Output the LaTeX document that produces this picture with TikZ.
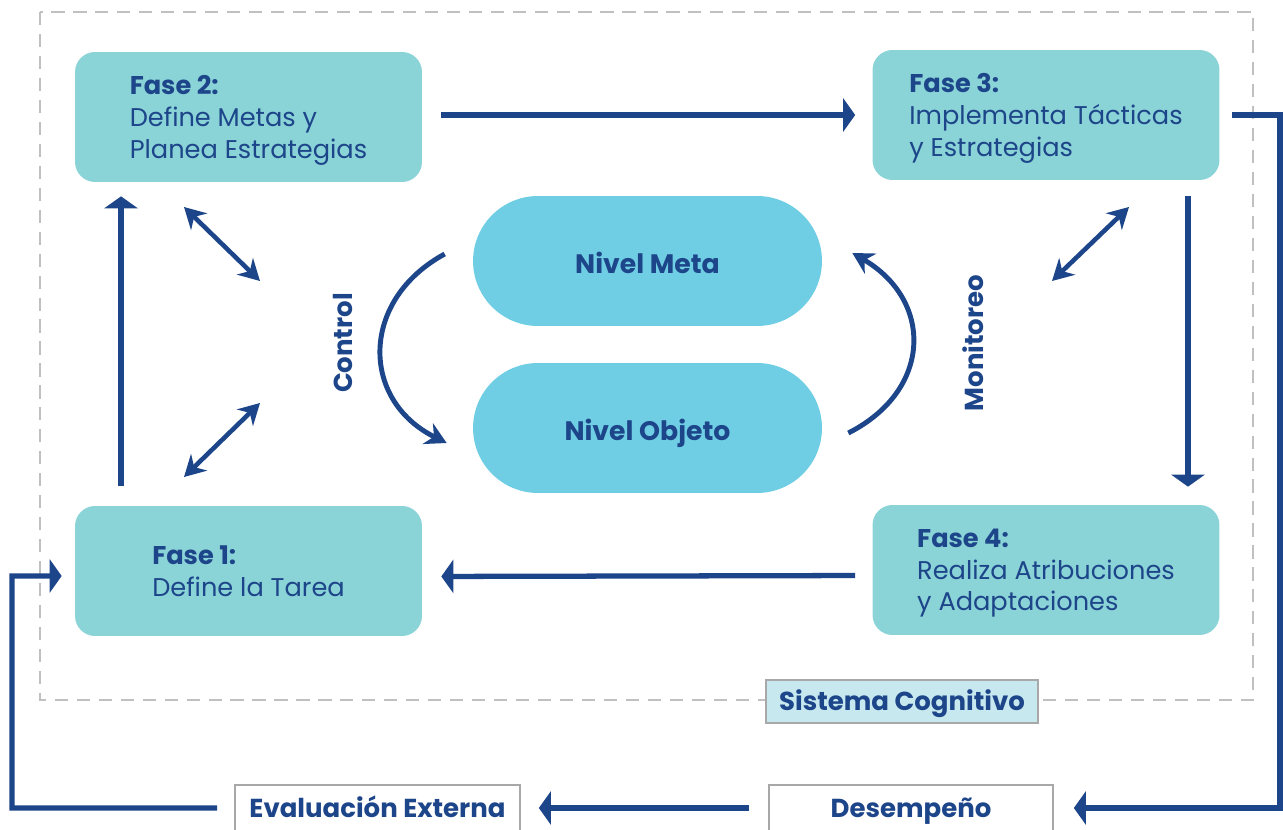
\documentclass[tikz,border=0pt]{standalone}
\usepackage{fontspec}
\setmainfont{Poppins}
\usetikzlibrary{arrows.meta}

\definecolor{azul}{HTML}{1D4589}
\definecolor{cajafase}{HTML}{8AD3D7}
\definecolor{cajanivel}{HTML}{6FCEE4}
\definecolor{cajasistema}{HTML}{C6E8EE}
\definecolor{bordegris}{HTML}{A8A8A8}
\definecolor{lineagris}{HTML}{C0C0C0}

\tikzset{
  fase/.style={fill=cajafase, rounded corners=0.4cm, minimum width=6.94cm, minimum height=2.6cm,
    align=left, text=azul, text depth=0pt, font=\fontsize{14.6}{18}\selectfont},
  nivel/.style={fill=cajanivel, rounded corners=1.3cm, minimum width=6.98cm, minimum height=2.6cm,
    text=azul, text height=14.6pt, text depth=0pt, font=\bfseries\fontsize{15.2}{18}\selectfont},
  etiqueta/.style={text=azul, font=\bfseries\fontsize{14.8}{18}\selectfont},
  caja/.style={draw=bordegris, line width=1pt, text=azul, text height=10.5pt, text depth=0pt,
    font=\bfseries\fontsize{14.8}{18}\selectfont},
  flow/.style={azul, line width=3pt, -{Triangle[length=0.24cm,width=0.66cm]}},
  dbl/.style={azul, line width=2.6pt, {Stealth[length=0.42cm,width=0.46cm]}-{Stealth[length=0.42cm,width=0.46cm]}},
  curva/.style={azul, line width=2.8pt, -{Stealth[length=0.42cm,width=0.46cm]}}
}

\begin{document}
\begin{tikzpicture}[x=0.02cm,y=-0.02cm]
\useasboundingbox (0,0) rectangle (1283,830);

% sistema cognitivo
\draw[lineagris, line width=1pt, dash pattern=on 7.5pt off 5pt] (40,12) rectangle (1253,700);

\node[fase, text depth=-5pt] (f2) at (248.5,117) {\textbf{Fase 2:}\\Define Metas y\\Planea Estrategias};
\node[fase] (f3) at (1046,115) {\textbf{Fase 3:}\\Implementa Tácticas\\y Estrategias};
\node[fase] (f1) at (248.5,571) {\textbf{Fase 1:}\\Define la Tarea};
\node[fase] (f4) at (1046,570) {\textbf{Fase 4:}\\Realiza Atribuciones\\y Adaptaciones};

\node[nivel] (meta) at (647.5,261) {Nivel Meta};
\node[nivel] (objeto) at (647.5,428) {Nivel Objeto};

\node[etiqueta, rotate=90] (control) at (343,343) {Control};
\node[etiqueta, rotate=90] (monitoreo) at (973,343) {Monitoreo};

\node[caja, fill=cajasistema, minimum width=5.44cm, minimum height=0.86cm] (sistema) at (902,701.5) {Sistema Cognitivo};
\node[caja, fill=white, minimum width=5.7cm, minimum height=0.92cm] (evalext) at (377.5,808) {Evaluación Externa};
\node[caja, fill=white, minimum width=5.68cm, minimum height=0.92cm] (desemp) at (911,808) {Desempeño};

% ciclo de fases
\draw[flow, shorten <=0.38cm, shorten >=0.34cm] (f2.east |- f3.west) -- (f3.west);
\draw[flow, shorten <=0.32cm, shorten >=0.36cm] ([xshift=2.84cm]f3.south) -- ([xshift=2.84cm]f4.north);
\draw[flow, shorten <=0.34cm, shorten >=0.38cm] ([yshift=-0.11cm]f4.west) -- ([yshift=-0.11cm]f1.east);
\draw[flow, shorten <=0.4cm, shorten >=0.28cm] ([xshift=-2.55cm]f1.north) -- ([xshift=-2.55cm]f2.south);

% flechas dobles
\coordinate (d1a) at (184,207);
\coordinate (d1b) at (260,281);
\coordinate (d2a) at (184,477);
\coordinate (d2b) at (260,403);
\coordinate (d3a) at (1129,207);
\coordinate (d3b) at (1052,281);
\draw[dbl] (d1a) -- (d1b);
\draw[dbl] (d2a) -- (d2b);
\draw[dbl] (d3a) -- (d3b);

% control y monitoreo
\draw[curva] ([xshift=-0.56cm,yshift=0.14cm]meta.west) .. controls (360,300) and (360,400) .. ([xshift=-0.52cm,yshift=-0.3cm]objeto.west);
\draw[curva] ([xshift=0.52cm,yshift=-0.1cm]objeto.east) .. controls (933,390) and (933,300) .. ([xshift=0.6cm,yshift=0.16cm]meta.east);

% lazo externo
\draw[flow, shorten <=0.24cm] (f3.east) -| (1280,808) -- ([xshift=0.4cm]desemp.east);
\draw[flow, shorten <=0.38cm, shorten >=0.36cm] (desemp.west) -- (evalext.east);
\draw[flow, shorten <=0.34cm] (evalext.west) -| (12,576) -- ([xshift=-0.26cm,yshift=-0.1cm]f1.west);
\end{tikzpicture}
\end{document}
